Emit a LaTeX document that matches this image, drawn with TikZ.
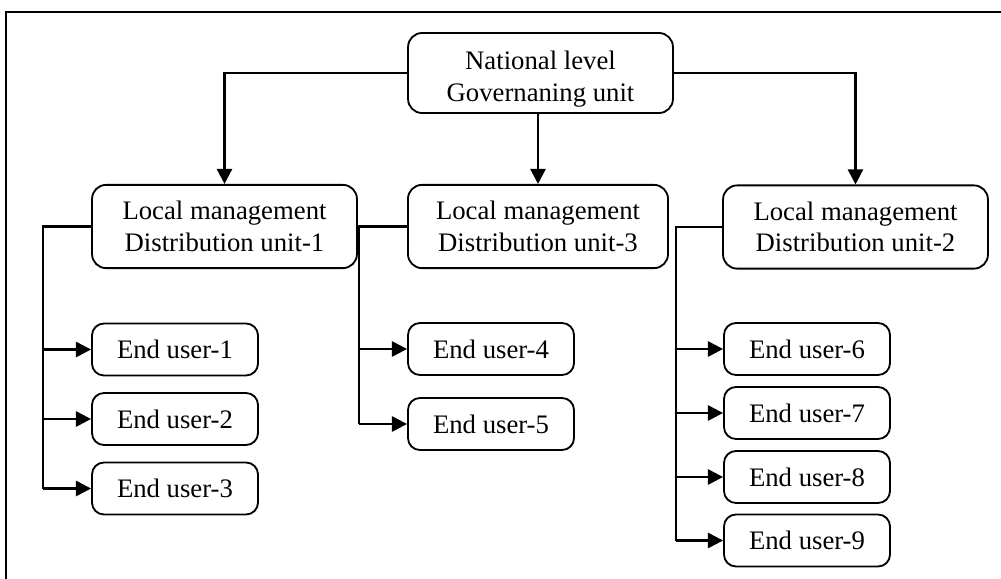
\documentclass[tikz,border=0pt]{standalone}
\usepackage{fontspec}
\setmainfont{Liberation Serif}
\usetikzlibrary{positioning, arrows.meta, calc}

\begin{document}
\begin{tikzpicture}[
        x=0.025cm, y=-0.025cm,
        unitbox/.style={rectangle, draw, rounded corners=0.35cm, line width=1.3pt, align=center,
            font=\fontsize{19}{22.5}\selectfont, inner sep=0pt},
        userbox/.style={unitbox, rounded corners=0.3cm, minimum width=4.15cm, minimum height=1.3cm},
        link/.style={line width=1.7pt},
        arrow/.style={link, -{Triangle[length=0.38cm, width=0.38cm]}}
    ]
    \useasboundingbox (0,0) rectangle (1001,579);
    \draw[line width=1.5pt] (6,579) -- (6,12) -- (1001,12);

    % top level and the three distribution units
    \node[unitbox, minimum width=6.62cm, minimum height=2.0cm] (nat) at (540.5,73) {\rule{0pt}{22pt}National level\\Governaning unit};
    \node[unitbox, minimum width=6.62cm, minimum height=2.08cm] (loc1) at (224.5,226.5) {Local management\\Distribution unit-1};
    \node[unitbox, minimum width=6.5cm, minimum height=2.08cm] (loc3) at (538,226.5) {Local management\\Distribution unit-3};
    \node[unitbox, minimum width=6.62cm, minimum height=2.08cm] (loc2) at (855.5,227) {Local management\\Distribution unit-2};

    \draw[arrow] (nat.west) -| (loc1.north);
    \draw[arrow] (nat.south -| loc3.north) -- (loc3.north);
    \draw[arrow] (nat.east) -| (loc2.north);

    % end users
    \foreach \n/\x/\y in {1/175/349.5, 2/175/419, 3/175/488.5, 4/491/349, 5/491/424,
                          6/807/349, 7/807/413, 8/807/477, 9/807/540.5} {
        \node[userbox] (u\n) at (\x,\y) {End user-\n};
    }

    % branches from each distribution unit
    \draw[link] (loc1.west) -- (43,226.5) coordinate (b1) -- (b1 |- u3.west);
    \draw[link] (loc3.west) -- (359,226.5) coordinate (b3) -- (b3 |- u5.west);
    \draw[link] (loc2.west) -- (676,227) coordinate (b2) -- (b2 |- u9.west);
    \foreach \b/\n in {b1/1, b1/2, b1/3, b3/4, b3/5, b2/6, b2/7, b2/8, b2/9} {
        \draw[arrow] (\b |- u\n.west) -- (u\n.west);
    }
\end{tikzpicture}
\end{document}
